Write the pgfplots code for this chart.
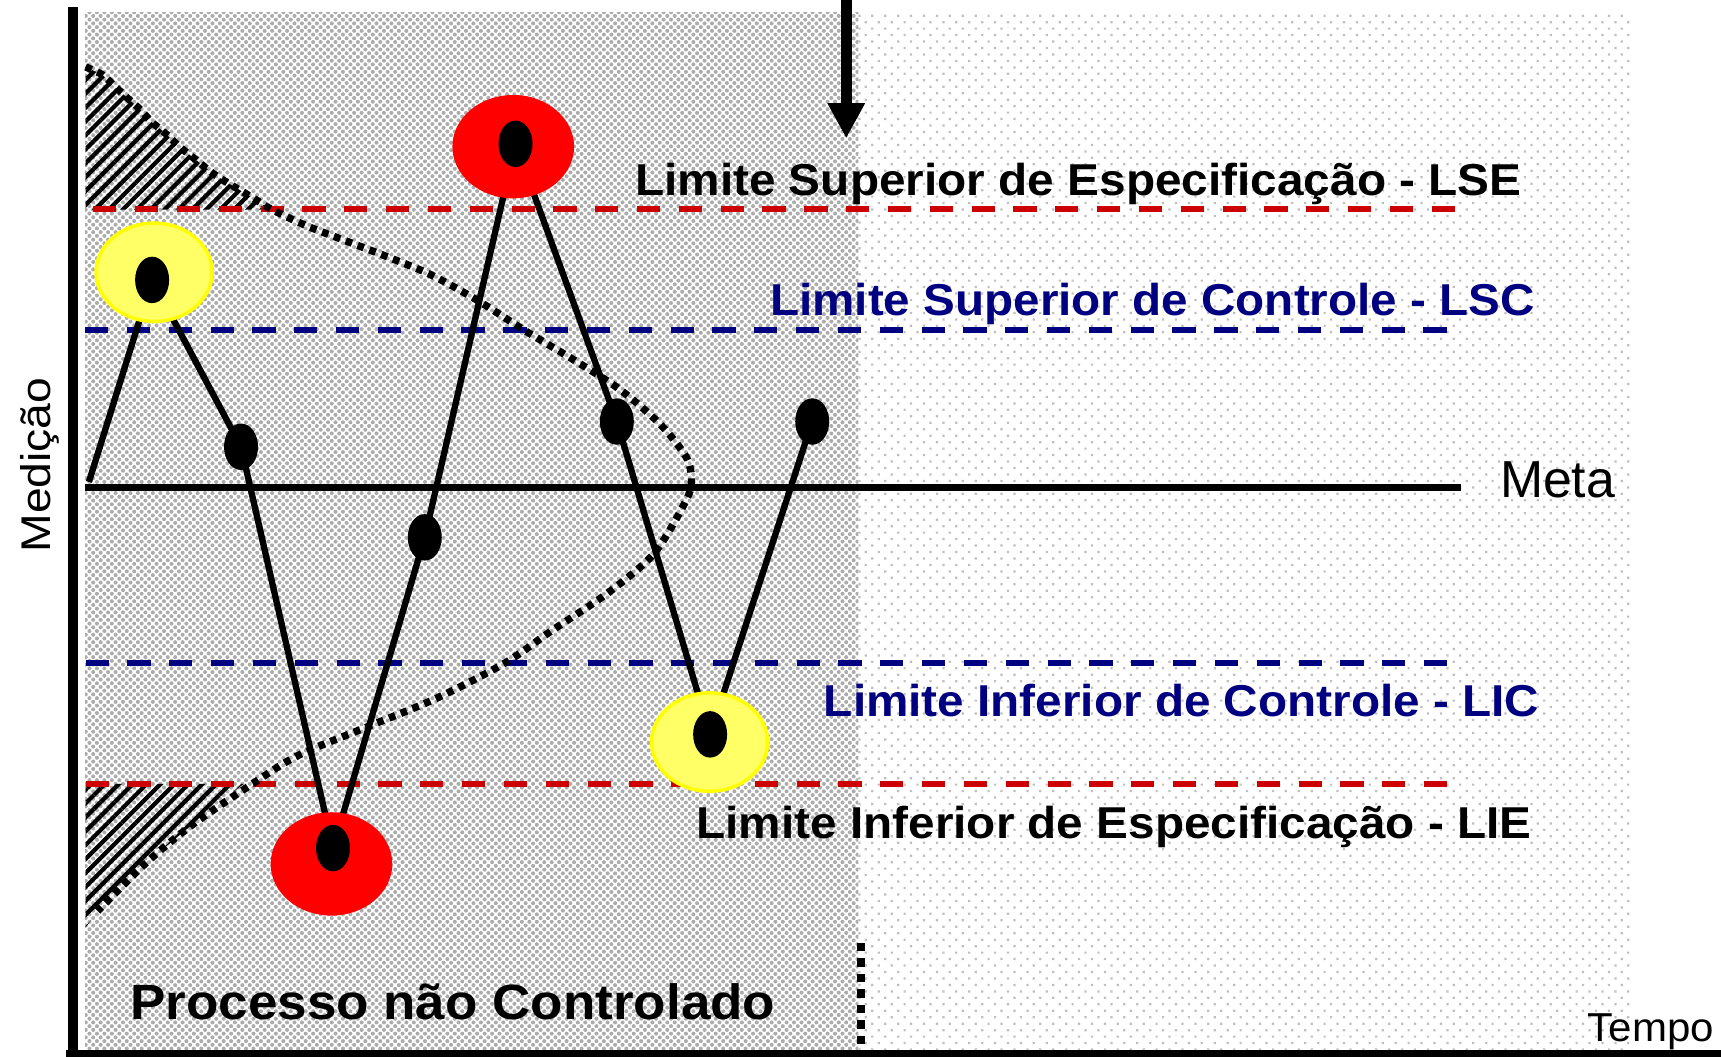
\documentclass[border=0pt]{standalone}
\usepackage{fontspec}
\setmainfont{Liberation Sans}
\usepackage{graphicx}
\usepackage{pgfplots}
\pgfplotsset{compat=1.18}
\usetikzlibrary{patterns.meta,arrows.meta}

\definecolor{specred}{HTML}{CC0000}
\definecolor{ctrlnavy}{HTML}{000080}
\definecolor{hlyellow}{HTML}{FFFF66}
\definecolor{hlborder}{HTML}{FFFF00}

% one unit of the axis (reference pixel, shrunk scale)
\newlength\px \setlength\px{0.010976cm}
\newcommand\lbl[3]{\resizebox{#1\px}{\height}{\fontsize{#2}{#2}\selectfont #3}}

\begin{document}
\begin{tikzpicture}
\begin{axis}[
  scale only axis, width=17.21cm, height=10.56cm,
  xmin=0, xmax=1568, ymin=0, ymax=962, y dir=reverse,
  hide axis, clip=true,
]
% background zones
\addplot[draw=none, pattern={Dots[radius=0.58pt,distance=1.5pt,angle=45]}, pattern color=gray!65]
  coordinates {(77.5,11.6) (782,11.6) (782,962) (77.5,962)} -- cycle;
\addplot[draw=none, pattern={Dots[radius=0.45pt,distance=2.6pt,angle=45]}, pattern color=gray!50]
  coordinates {(782,11.6) (1486,11.6) (1486,962) (782,962)} -- cycle;

% hatched tails
\addplot[draw=none, pattern={Lines[angle=45,distance=2.8pt,line width=1.2pt]}, pattern color=black]
  coordinates {(78,61) (93,68) (106,80) (118,91) (128,100) (138,111) (149,120) (164,134)
               (179,146) (194,158) (213,170) (230,180) (248,191) (78,191)} -- cycle;
\addplot[draw=none, pattern={Lines[angle=45,distance=2.8pt,line width=1.2pt]}, pattern color=black]
  coordinates {(78,714) (222,714) (173,753) (131,788) (89,830) (78,845)} -- cycle;

% highlight circles
\addplot[red, only marks, mark=*, mark size=14.5pt, mark options={xscale=1.18, fill=red, draw=red}]
  coordinates {(467.6,133.6) (302,787)};
\addplot[hlborder, only marks, mark=*, mark size=14pt, mark options={xscale=1.18, fill=hlyellow, draw=hlborder, line width=1pt}]
  coordinates {(140.4,248) (646.5,676)};

% limits
\addplot[specred, line width=1.7pt, dash pattern=on 6.6pt off 5.3pt] coordinates {(85,190.6) (1331,190.6)};
\addplot[ctrlnavy, line width=1.7pt, dash pattern=on 6.6pt off 5.3pt] coordinates {(77.5,301) (1323,301)};
\addplot[ctrlnavy, line width=1.7pt, dash pattern=on 6.6pt off 5.3pt] coordinates {(78,604) (1323,604)};
\addplot[specred, line width=1.7pt, dash pattern=on 6.6pt off 5.3pt] coordinates {(78,714) (1323,714)};
\addplot[black, line width=2.2pt] coordinates {(77.5,444) (1331,444)};

% distribution curve
\addplot[black, line width=2.1pt, dash pattern=on 1.9pt off 1.7pt, smooth]
  coordinates {(78,61) (93,68) (106,80) (118,91) (128,100) (138,111) (149,120) (164,134)
               (179,146) (194,158) (213,170) (230,180) (248,191) (280,206) (314,219)
               (353,234) (392,250) (434,273) (478,301) (523,328) (565,355) (601,386)
               (625,416) (630,437) (625,456) (596,504) (554,540) (502,575) (460,604)
               (398,636) (335,662) (272,688) (230,714) (173,753) (131,788) (89,830)};

% measurements
\addplot[black, line width=1.8pt, mark=*, mark size=5.7pt, mark indices={2,3,4,5,6,7,8,9},
  mark options={xscale=0.69, fill=black, solid}]
  coordinates {(81,439) (138.6,255) (219.6,407) (303.4,772.6) (387,489.5)
               (469.7,131) (562,384) (647,669) (740,384)};

% axes, arrow and separator
\addplot[black, line width=3.1pt] coordinates {(66.5,6.7) (66.5,975)};
\addplot[black, line width=2.3pt] coordinates {(60,960.3) (1600,960.3)};
\addplot[black, line width=3pt, -{Triangle[width=10pt,length=10pt]}] coordinates {(771,-10) (771,126)};
\addplot[black, line width=2.3pt, dash pattern=on 2.4pt off 2pt] coordinates {(784.5,859) (784.5,962)};

% labels
\node[anchor=base west, inner sep=0] at (axis cs:578,177.7) {\lbl{808}{12.7pt}{\bfseries Limite Superior de Especificação - LSE}};
\node[anchor=base west, inner sep=0, text=ctrlnavy] at (axis cs:701,287) {\lbl{697}{12.7pt}{\bfseries Limite Superior de Controle - LSC}};
\node[anchor=base west, inner sep=0, text=ctrlnavy] at (axis cs:750,653) {\lbl{652}{12.7pt}{\bfseries Limite Inferior de Controle - LIC}};
\node[anchor=base west, inner sep=0] at (axis cs:634,764) {\lbl{761}{12.7pt}{\bfseries Limite Inferior de Especificação - LIE}};
\node[anchor=base west, inner sep=0] at (axis cs:1366,453) {\lbl{105}{14.8pt}{Meta}};
\node[anchor=base west, inner sep=0] at (axis cs:118,929) {\lbl{588}{14.1pt}{\bfseries Processo não Controlado}};
\node[anchor=base west, inner sep=0] at (axis cs:1446,948.5) {\lbl{115}{11.5pt}{Tempo}};
\node[anchor=base west, inner sep=0, rotate=90] at (axis cs:45.6,504) {\lbl{159.5}{11.8pt}{Medição}};
\end{axis}
\pgfresetboundingbox
\path (current axis.south west) rectangle (current axis.north east);
\end{tikzpicture}
\end{document}
